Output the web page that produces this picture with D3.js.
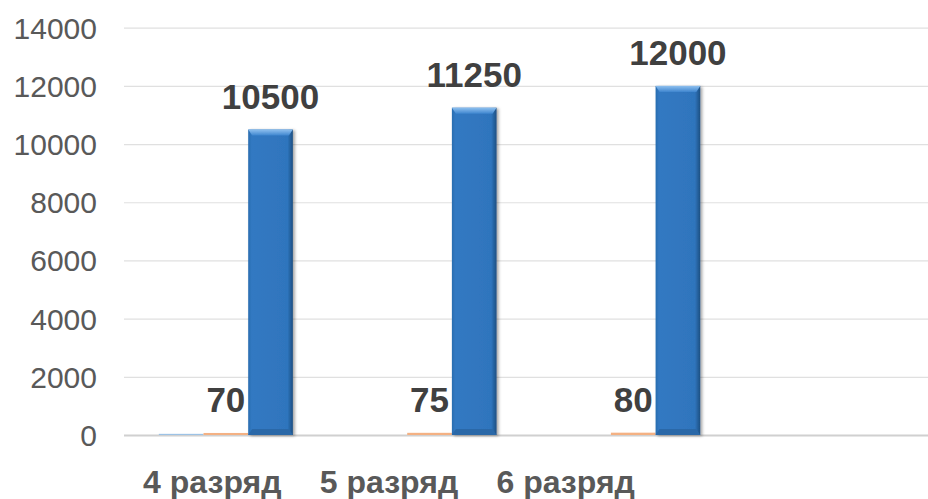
<!DOCTYPE html>
<html>
<head>
<meta charset="utf-8">
<script src="https://cdn.jsdelivr.net/npm/d3@7"></script>
<style>
  html, body { margin: 0; padding: 0; background: #ffffff; }
  svg { display: block; font-family: "Liberation Sans", Arial, sans-serif; }
</style>
</head>
<body>
<svg id="chart" width="928" height="499"></svg>
<script>
// Category names and the three series per category
const categories = ["4 разряд", "5 разряд", "6 разряд"];
const seriesNames = ["s1", "s2", "s3"];
const series1 = [40, 0, 0];
const series2 = [70, 75, 80];
const series3 = [10500, 11250, 12000];
const yTicks = [0, 2000, 4000, 6000, 8000, 10000, 12000, 14000];

const rows = categories.map((c, i) => ({
  category: c,
  values: [series1[i], series2[i], series3[i]]
}));

const svg = d3.select("#chart");
const W = 928;
const plotLeft = 124, plotBottom = 435, plotTop = 27.7;
const step = 203.7;

const y = d3.scaleLinear().domain([0, 14000]).range([plotBottom, plotTop]);
const x0 = d3.scaleBand().domain(categories).range([plotLeft, plotLeft + step * categories.length]).padding(0);
const bw = x0.bandwidth();
const x1 = d3.scaleBand().domain(seriesNames).range([bw * 0.171, bw * 0.829]).padding(0);

// Gradients for the bevelled blue bars
const defs = svg.append("defs");
const body = defs.append("linearGradient").attr("id", "bodyGrad").attr("x1", 0).attr("x2", 1).attr("y1", 0).attr("y2", 0);
body.append("stop").attr("offset", "0%").attr("stop-color", "#2a6db0");
body.append("stop").attr("offset", "8%").attr("stop-color", "#3279c2");
body.append("stop").attr("offset", "88%").attr("stop-color", "#2f75bd");
body.append("stop").attr("offset", "100%").attr("stop-color", "#1d4f82");
const cap = defs.append("linearGradient").attr("id", "capGrad").attr("x1", 0).attr("x2", 0).attr("y1", 0).attr("y2", 1);
cap.append("stop").attr("offset", "0%").attr("stop-color", "#8ec0ef");
cap.append("stop").attr("offset", "100%").attr("stop-color", "#3f86cf");
const shadow = defs.append("filter").attr("id", "shadow").attr("x", "-20%").attr("y", "-5%").attr("width", "150%").attr("height", "115%");
shadow.append("feDropShadow").attr("dx", 2).attr("dy", 1).attr("stdDeviation", 1.6).attr("flood-color", "#000").attr("flood-opacity", 0.35);

// Y axis with gridlines
const yAxis = d3.axisLeft(y).tickValues(yTicks).tickFormat(d3.format("d")).tickSize(0).tickPadding(27);
const gy = svg.append("g").attr("transform", `translate(${plotLeft},0)`).call(yAxis);
gy.select(".domain").remove();
gy.selectAll(".tick text")
  .attr("fill", "#595959")
  .style("font-size", "30px")
  .attr("dy", "0.35em");
gy.selectAll(".tick").append("line")
  .attr("x1", 0).attr("x2", W - plotLeft)
  .attr("stroke", d => d === 0 ? "#d0d0d0" : "#e0e0e0")
  .attr("stroke-width", d => d === 0 ? 2 : 1.2);

// Bars
const groups = svg.append("g").selectAll("g.cat")
  .data(rows).join("g")
  .attr("class", "cat")
  .attr("transform", d => `translate(${x0(d.category)},0)`);

const smallColors = { s1: "#9dc3e6", s2: "#f4b183" };

groups.each(function(d) {
  const g = d3.select(this);
  d.values.forEach((v, i) => {
    const key = seriesNames[i];
    const xb = x1(key), w = x1.bandwidth();
    const yt = y(v), h = plotBottom - yt;
    if (key === "s3") {
      const bar = g.append("g").attr("filter", "url(#shadow)");
      bar.append("rect").attr("x", xb).attr("y", yt).attr("width", w).attr("height", h).attr("fill", "url(#bodyGrad)");
      const bev = 6;
      bar.append("path")
        .attr("d", `M${xb},${yt} L${xb + w},${yt} L${xb + w - 4},${yt + bev} L${xb + 4},${yt + bev} Z`)
        .attr("fill", "url(#capGrad)");
      bar.append("path")
        .attr("d", `M${xb},${plotBottom} L${xb + 4},${plotBottom - bev} L${xb + w - 4},${plotBottom - bev} L${xb + w},${plotBottom} Z`)
        .attr("fill", "#2a68a8");
    } else if (v > 0) {
      g.append("rect").attr("x", xb).attr("y", yt).attr("width", w).attr("height", Math.max(h, 0))
        .attr("fill", smallColors[key]);
    }
  });
});

// Value labels for the second and third series
groups.each(function(d) {
  const g = d3.select(this);
  [1, 2].forEach(i => {
    const key = seriesNames[i];
    const v = d.values[i];
    g.append("text")
      .attr("x", x1(key) + x1.bandwidth() / 2)
      .attr("y", y(v) - 21)
      .attr("text-anchor", "middle")
      .attr("fill", "#404040")
      .style("font-size", "35px")
      .style("font-weight", "bold")
      .text(v);
  });
});

// Category axis labels
const xLabels = d3.scaleBand().domain(categories).range([124, 654]);
const xAxis = d3.axisBottom(xLabels).tickSize(0).tickPadding(0);
const gx = svg.append("g").attr("transform", `translate(0,${plotBottom})`).call(xAxis);
gx.select(".domain").remove();
gx.selectAll(".tick text")
  .attr("y", 58)
  .attr("dy", 0)
  .attr("fill", "#595959")
  .style("font-size", "32px")
  .style("font-weight", "bold");
</script>
</body>
</html>
